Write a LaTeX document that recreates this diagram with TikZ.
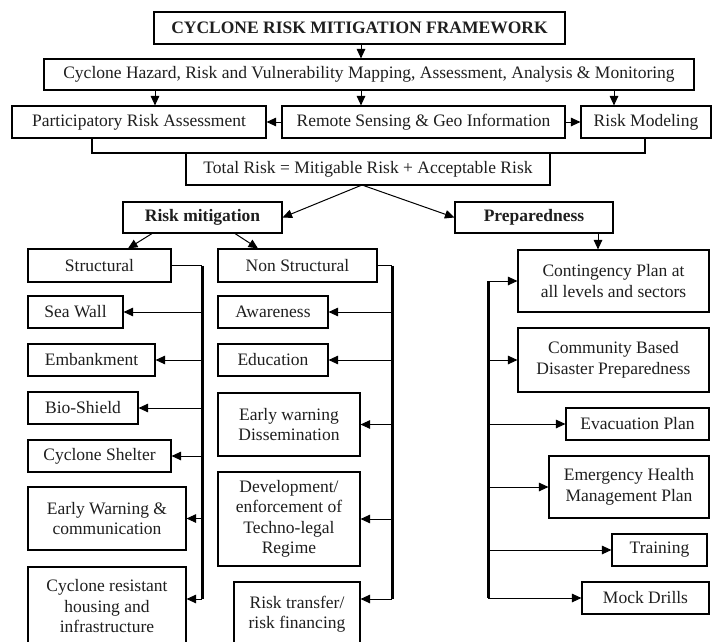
\documentclass[tikz,border=0pt]{standalone}
\usepackage{fontspec}
\setmainfont{Liberation Serif}
\usetikzlibrary{arrows.meta}
\begin{document}
\begin{tikzpicture}[x=1pt,y=-1pt]
\tikzset{
 box/.style={draw, line width=1.1pt, inner sep=0pt, align=center, font=\fontsize{17.5}{20.5}\selectfont, text=black!88},
 bbox/.style={box, font=\bfseries\fontsize{17.5}{20.5}\selectfont},
 arr/.style={line width=1pt, -{Triangle[length=9.5pt,width=8.5pt]}},
 bus/.style={line width=3pt},
 wire/.style={line width=1.2pt},
}
\useasboundingbox (0,0) rectangle (712,642);
\clip (0,0) rectangle (712,642);
\fill[white] (0,0) rectangle (712,642);
% top
\node[bbox, minimum width=411pt, minimum height=32pt] (title) at (359.5,28) {CYCLONE RISK MITIGATION FRAMEWORK};
\node[box, minimum width=650pt, minimum height=31pt] (hazard) at (369,74.5) {Cyclone Hazard, Risk and Vulnerability Mapping, Assessment, Analysis \& Monitoring};
\node[box, minimum width=254pt, minimum height=32pt] (part) at (139,122) {Participatory Risk Assessment};
\node[box, minimum width=283pt, minimum height=32pt] (remote) at (423.5,122) {Remote Sensing \& Geo Information};
\node[box, minimum width=130pt, minimum height=32pt] (model) at (646,122) {Risk Modeling};
\node[box, minimum width=364pt, minimum height=32pt] (total) at (368,169) {Total Risk = Mitigable Risk + Acceptable Risk};
\node[bbox, minimum width=159pt, minimum height=31pt] (rm) at (202.5,217.5) {Risk mitigation};
\node[bbox, minimum width=158pt, minimum height=31pt] (prep) at (534,217.5) {Preparedness};
% structural
\node[box, minimum width=143pt, minimum height=33pt] (struct) at (99.5,265.5) {Structural};
\node[box, minimum width=95pt, minimum height=32pt] (seawall) at (75.5,312) {Sea Wall};
\node[box, minimum width=127pt, minimum height=32pt] (emb) at (91.5,360) {Embankment};
\node[box, minimum width=110pt, minimum height=32pt] (bio) at (83,408) {Bio-Shield};
\node[box, minimum width=143pt, minimum height=32pt] (shelter) at (99.5,456) {Cyclone Shelter};
\node[box, minimum width=158pt, minimum height=63pt] (ew) at (107,518.5) {Early Warning \&\\communication};
\node[box, minimum width=158pt, minimum height=79pt] (housing) at (107,606.5) {Cyclone resistant\\housing and\\infrastructure};
% non structural
\node[box, minimum width=159pt, minimum height=33pt] (nonstruct) at (297.5,265.5) {Non Structural};
\node[box, minimum width=110pt, minimum height=32pt] (aware) at (273,312) {Awareness};
\node[box, minimum width=110pt, minimum height=32pt] (edu) at (273,360) {Education};
\node[box, minimum width=142pt, minimum height=63pt] (ewd) at (289,424.5) {Early warning\\Dissemination};
\node[box, minimum width=142pt, minimum height=94pt] (dev) at (289,519) {Development/\\enforcement of\\Techno-legal\\Regime};
\node[box, minimum width=126pt, minimum height=64pt] (rt) at (297,614) {Risk transfer/\\risk financing};
% preparedness
\node[box, minimum width=191pt, minimum height=62pt] (cont) at (613.5,281) {Contingency Plan at\\all levels and sectors};
\node[box, minimum width=191pt, minimum height=64pt] (comm) at (613.5,360) {Community Based\\Disaster Preparedness};
\node[box, minimum width=143pt, minimum height=32pt] (evac) at (637.5,424) {Evacuation Plan};
\node[box, minimum width=160pt, minimum height=62pt] (health) at (629,487) {Emergency Health\\Management Plan};
\node[box, minimum width=95pt, minimum height=32pt] (train) at (659.5,550) {Training};
\node[box, minimum width=127pt, minimum height=32pt] (mock) at (645.5,598) {Mock Drills};
% top connectors
\coordinate (xa) at (155,0);
\coordinate (xb) at (361,0);
\coordinate (xc) at (614,0);
\coordinate (xd) at (598,0);
\draw[arr] (xb |- title.south) -- (xb |- hazard.north);
\draw[arr] (xa |- hazard.south) -- (xa |- part.north);
\draw[arr] (xb |- hazard.south) -- (xb |- remote.north);
\draw[arr] (xc |- hazard.south) -- (xc |- model.north);
\draw[arr] (remote.west) -- (part.east);
\draw[arr] (remote.east) -- (model.west);
\coordinate (bl) at (92,153);
\coordinate (br) at (645,153);
\draw[wire] (bl |- part.south) -- (bl) -- (br) -- (br |- model.south);
\coordinate (tj) at (362,185);
\draw[arr] (tj) -- (rm.east);
\draw[arr] (tj) -- (prep.west);
\draw[arr] ([xshift=-50.5pt]rm.south) -- ([xshift=28.5pt]struct.north);
\draw[arr] ([xshift=32.5pt]rm.south) -- ([xshift=-39.5pt]nonstruct.north);
\draw[arr] (xd |- prep.south) -- (xd |- cont.north);
% structural bus
\coordinate (sb1) at (202,265.5);
\coordinate (sb2) at (202,599);
\draw[wire,line width=1.6pt] (struct.east) -- (sb1);
\draw[bus] (sb1) -- (sb2);
\foreach \n in {seawall,emb,bio,shelter,ew} \draw[arr] (\n.east -| sb1) -- (\n.east);
\draw[arr] (sb2) -- (sb2 -| housing.east);
% non structural bus
\coordinate (nb1) at (392,265.5);
\coordinate (nb2) at (392,599);
\draw[wire,line width=1.6pt] (nonstruct.east) -- (nb1);
\draw[bus] (nb1) -- (nb2);
\foreach \n in {aware,edu,ewd,dev} \draw[arr] (\n.east -| nb1) -- (\n.east);
\draw[arr] (nb2) -- (nb2 -| rt.east);
% preparedness bus
\coordinate (pb1) at (488,281);
\coordinate (pb2) at (488,598);
\draw[bus] (pb1) -- (pb2);
\foreach \n in {cont,comm,evac,health,train,mock} \draw[arr] (\n.west -| pb1) -- (\n.west);
\end{tikzpicture}
\end{document}
